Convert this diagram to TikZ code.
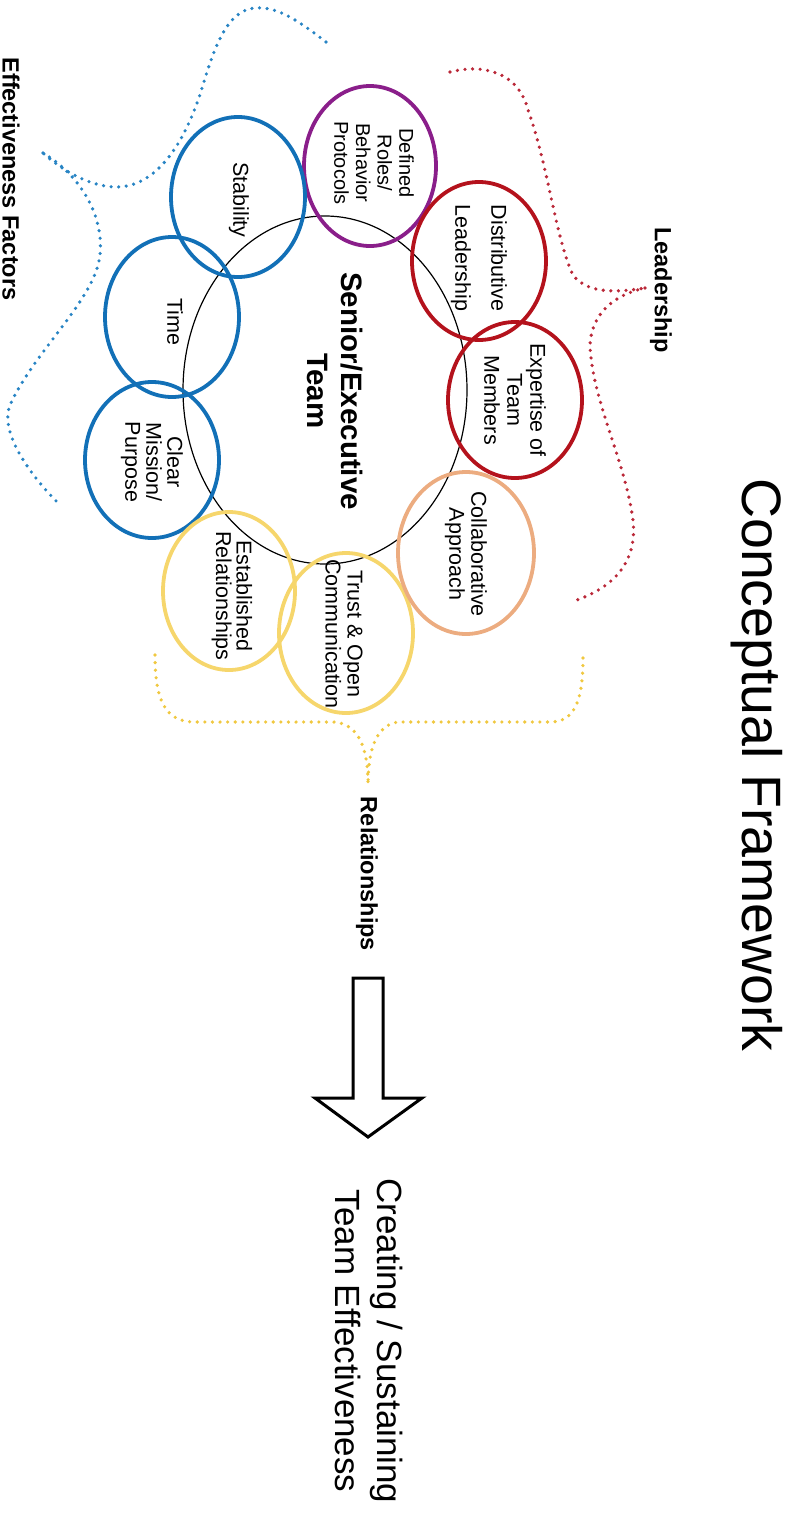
\documentclass[tikz,border=0pt]{standalone}
\usepackage{fontspec}
\setmainfont{Liberation Sans}
\usetikzlibrary{shapes.geometric}

\definecolor{factorblue}{RGB}{18,112,183}
\definecolor{factorbluedot}{RGB}{40,132,196}
\definecolor{rolepurple}{RGB}{138,30,138}
\definecolor{leadred}{RGB}{180,18,28}
\definecolor{leadreddot}{RGB}{186,40,56}
\definecolor{collabpeach}{RGB}{236,172,128}
\definecolor{relyellow}{RGB}{246,214,108}
\definecolor{relyellowdot}{RGB}{240,200,64}

\tikzset{
  ring/.style={ellipse, draw, line width=3.8pt, inner sep=0pt,
               minimum width=134pt, minimum height=160pt},
  ringtext/.style={rotate=-90, align=center, inner sep=0pt,
                   font=\fontsize{21.5}{23}\selectfont},
  grouplabel/.style={rotate=-90, inner sep=0pt,
                     font=\fontsize{23.5}{26}\selectfont\bfseries},
  dotbrace/.style={line width=3.6pt, dash pattern=on 0pt off 7.6pt, line cap=round}
}

\begin{document}
\begin{tikzpicture}[x=1pt,y=-1pt]
\useasboundingbox (0,0) rectangle (788,1526);

% central team
\node[ellipse, draw, line width=1.2pt, inner sep=0pt,
      minimum width=284pt, minimum height=348pt] (team) at (325,390) {};
\node[rotate=-90, align=center, inner sep=0pt,
      font=\fontsize{29.5}{34}\selectfont\bfseries] (teamtext) at (335,391)
      {Senior/Executive\\Team};

% effectiveness factor rings
\node[ring, draw=rolepurple, minimum width=132pt] (roles) at (370,166) {};
\node[ring, draw=factorblue] (stability) at (238,197) {};
\node[ring, draw=factorblue] (time) at (172,317) {};
\node[ring, draw=factorblue, minimum height=156pt] (mission) at (152,460) {};
\node[ring, draw=relyellow, minimum width=132pt, minimum height=158pt] (established) at (229,591) {};
\node[ring, draw=relyellow] (trust) at (346,633) {};
\node[ring, draw=collabpeach, minimum width=136pt, minimum height=162pt] (collab) at (466,553) {};
\node[ring, draw=leadred, minimum height=156pt] (expertise) at (515,400) {};
\node[ring, draw=leadred, minimum height=158pt] (distributive) at (479,261) {};

% ring labels
\node[ringtext, font=\fontsize{20}{21.7}\selectfont] (rolestext) at (374,163)
      {Defined\\Roles/\\Behavior\\Protocols};
\node[ringtext] (stabilitytext) at (239,200) {Stability};
\node[ringtext] (timetext) at (175,322) {Time};
\node[ringtext, font=\fontsize{21.5}{21}\selectfont] (missiontext) at (152,462)
      {Clear\\Mission/\\Purpose};
\node[ringtext, font=\fontsize{21.5}{20.5}\selectfont] (establishedtext) at (232,596)
      {Established\\Relationships};
\node[ringtext, font=\fontsize{21.5}{22}\selectfont] (trusttext) at (344,634)
      {Trust \& Open\\Communication};
\node[ringtext, font=\fontsize{21.5}{22}\selectfont] (collabtext) at (466,554)
      {Collaborative\\Approach};
\node[ringtext] (expertisetext) at (515,400) {Expertise of\\Team\\Members};
\node[ringtext, font=\fontsize{21.5}{36}\selectfont] (distributivetext) at (479,258)
      {Distributive\\Leadership};

% group labels
\node[grouplabel] (efflabel) at (11,179) {Effectiveness Factors};
\node[grouplabel] (leadlabel) at (661,290) {Leadership};
\node[grouplabel] (rellabel) at (367,874) {Relationships};

% brace tips
\coordinate (efftip) at (43,153);
\coordinate (leadtip) at (645,288);
\coordinate (reltip) at (368,785);

% effectiveness factors brace
\draw[dotbrace, factorbluedot]
  (326,42) .. controls (300,22) and (278,6) .. (255,8)
           .. controls (228,10) and (215,45) .. (203,85)
           .. controls (188,135) and (160,188) .. (115,187)
           .. controls (88,186) and (62,170) .. (efftip);
\draw[dotbrace, factorbluedot]
  (efftip) .. controls (80,175) and (104,215) .. (100,255)
           .. controls (95,300) and (35,350) .. (10,405)
           .. controls (0,430) and (25,470) .. (60,505);

% leadership brace
\draw[dotbrace, leadreddot]
  (450,72) .. controls (480,64) and (518,70) .. (528,110)
           .. controls (548,165) and (556,240) .. (573,275)
           .. controls (588,295) and (620,292) .. (leadtip);
\draw[dotbrace, leadreddot]
  (leadtip) .. controls (618,294) and (592,310) .. (590,345)
            .. controls (592,400) and (625,460) .. (633,520)
            .. controls (638,565) and (610,588) .. (577,600);

% relationships brace
\draw[dotbrace, relyellowdot]
  (155,655) .. controls (155,700) and (165,722) .. (195,722)
            -- (335,722)
            .. controls (360,725) and (368,750) .. (reltip);
\draw[dotbrace, relyellowdot]
  (583,658) .. controls (583,700) and (575,722) .. (550,722)
            -- (398,722)
            .. controls (376,725) and (368,750) .. (reltip);

% outcome arrow
\draw[line width=3pt, line join=miter]
  (353,978) -- (383,978) -- (383,1098) -- (422,1098) -- (368,1137)
  -- (315,1098) -- (353,1098) -- cycle;
\coordinate (arrowtip) at (368,1137);

% outcome and title
\node[rotate=-90, align=center, inner sep=0pt,
      font=\fontsize{35}{42}\selectfont] (outcome) at (369,1341)
      {Creating / Sustaining\\Team Effectiveness};
\node[rotate=-90, anchor=base, inner sep=0pt,
      font=\fontsize{55.5}{60}\selectfont] (title) at (742,765)
      {Conceptual Framework};
\end{tikzpicture}
\end{document}
